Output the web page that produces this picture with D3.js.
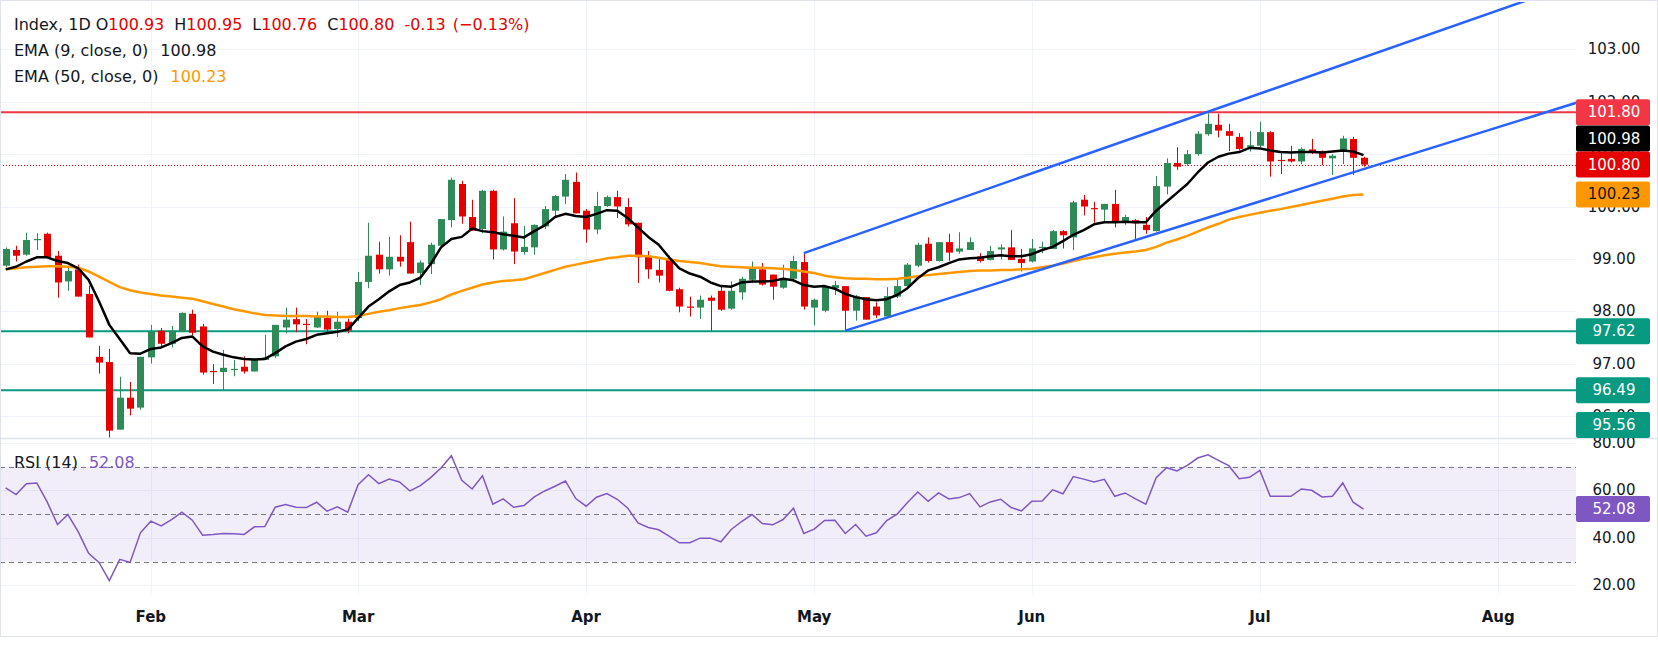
<!DOCTYPE html>
<html>
<head>
<meta charset="utf-8">
<title>Index 1D - EMA 9 / EMA 50 / RSI 14</title>
<script src="https://cdn.jsdelivr.net/npm/d3@7"></script>
<style>
  body { margin: 0; background: #fff; }
  svg { display: block; }
  text { font-family: "DejaVu Sans", sans-serif; fill: #131722; }
</style>
</head>
<body>
<div id="chart"></div>
<script>
// daily candles, one entry per trading day (mid Jan -> 15 Jul)
const opens = [98.87,99.17,99.08,99.36,99.48,99.06,98.57,98.80,98.33,97.13,97.03,95.74,96.35,96.16,97.12,97.63,97.38,97.61,97.95,97.71,
  96.86,96.84,96.88,96.94,96.85,97.07,97.14,97.69,97.85,97.76,97.69,97.87,97.66,97.80,97.87,98.56,99.08,98.80,99.04,99.32,
  98.73,98.90,99.25,99.74,100.43,99.80,99.57,100.30,99.18,99.68,99.13,99.22,99.62,99.92,100.19,100.47,99.92,99.56,100.01,100.18,
  99.99,99.69,99.04,98.79,99.00,98.42,98.09,98.07,98.26,98.39,98.05,98.36,98.60,98.80,98.70,98.45,98.62,98.94,98.07,98.01,
  98.44,98.48,98.01,98.27,98.09,97.90,98.28,98.48,98.87,99.29,98.96,99.32,99.14,99.17,99.05,98.98,99.18,99.22,99.00,98.95,
  99.22,99.19,99.53,99.41,100.13,99.97,99.94,100.05,99.69,99.74,99.65,99.53,100.38,100.83,100.81,101.00,101.38,101.56,101.44,101.33,
  101.14,101.16,101.42,100.89,100.91,100.86,101.09,101.06,100.92,101.07,101.29,100.93];
const highs = [99.22,99.25,99.50,99.49,99.50,99.15,98.87,98.89,98.49,97.34,97.28,96.75,96.65,97.13,97.74,97.68,97.72,97.98,98.03,97.76,
  96.99,97.26,97.07,97.14,97.09,97.55,97.74,98.07,98.07,97.85,97.99,98.01,97.99,97.86,98.75,99.69,99.33,99.42,99.45,99.71,
  98.97,99.31,99.76,100.55,100.49,100.13,100.32,100.32,99.81,100.16,99.63,99.66,100.01,100.22,100.62,100.65,99.95,100.28,100.21,100.30,
  100.16,99.69,99.15,99.03,99.06,98.45,98.28,98.30,98.30,98.50,98.57,98.66,98.95,98.92,98.70,98.89,99.06,99.11,98.24,98.50,
  98.58,98.48,98.31,98.27,98.17,98.46,98.60,98.92,99.31,99.41,99.32,99.48,99.51,99.41,99.11,99.25,99.28,99.55,99.19,99.38,
  99.33,99.55,99.55,100.11,100.22,100.09,100.05,100.32,99.84,99.76,99.80,100.58,100.92,101.13,101.08,101.44,101.78,101.77,101.58,101.40,
  101.44,101.62,101.44,101.02,101.16,101.13,101.29,101.07,101.00,101.35,101.33,100.95];
const lows = [98.84,98.95,99.06,99.17,99.03,98.26,98.39,98.28,97.50,96.81,95.59,95.74,96.01,96.12,97.00,97.32,97.31,97.61,97.54,96.79,
  96.61,96.49,96.76,96.81,96.85,97.07,97.11,97.58,97.60,97.37,97.68,97.60,97.51,97.58,97.81,98.44,98.72,98.68,98.85,98.72,
  98.50,98.71,99.22,99.60,99.67,99.54,99.49,98.99,99.16,98.90,99.08,99.08,99.57,99.80,100.05,99.87,99.31,99.47,99.99,99.78,
  99.62,98.54,98.62,98.55,98.38,97.98,97.90,97.85,97.63,98.01,98.03,98.22,98.54,98.49,98.22,98.43,98.56,98.03,97.73,97.98,
  98.31,97.63,97.82,97.84,97.87,97.90,98.25,98.47,98.84,98.93,98.95,98.96,99.10,99.17,98.93,98.97,98.99,98.98,98.76,98.93,
  99.11,99.19,99.20,99.17,99.83,99.69,99.71,99.60,99.65,99.38,99.48,99.52,100.23,100.70,100.78,100.97,101.35,101.32,101.06,101.07,
  101.05,101.13,100.57,100.62,100.84,100.81,101.00,100.79,100.60,100.81,100.60,100.76];
const closes = [99.19,99.06,99.36,99.38,99.03,98.55,98.77,98.28,97.50,97.02,95.72,96.35,96.14,97.13,97.61,97.38,97.63,97.97,97.59,96.83,
  96.84,96.92,96.90,96.85,97.09,97.12,97.74,97.84,97.75,97.75,97.90,97.65,97.80,97.63,98.56,99.06,98.80,99.04,98.95,98.72,
  98.93,99.27,99.76,100.51,99.81,99.54,100.30,99.18,99.52,99.14,99.23,99.65,99.95,100.20,100.51,99.87,99.56,100.01,100.18,100.00,
  99.66,99.03,98.80,98.68,98.39,98.09,98.07,98.22,98.20,98.03,98.39,98.62,98.84,98.51,98.47,98.63,98.96,98.09,98.22,98.48,
  98.50,98.01,98.28,97.84,97.92,98.29,98.48,98.89,99.27,98.96,99.32,99.12,99.20,99.32,98.96,99.15,99.22,98.98,98.92,99.20,
  99.23,99.53,99.45,100.08,100.00,99.96,100.05,99.69,99.80,99.68,99.55,100.39,100.83,100.76,101.00,101.39,101.58,101.45,101.35,101.10,
  101.17,101.42,100.86,100.87,100.86,101.10,101.04,100.93,100.97,101.30,100.93,100.80];

// indicator values, one per candle
const ema9 = [98.80,98.85,98.95,99.03,99.03,98.96,98.92,98.82,98.60,98.19,97.74,97.47,97.20,97.19,97.28,97.31,97.39,97.49,97.52,97.33,
  97.23,97.17,97.12,97.09,97.08,97.09,97.20,97.33,97.42,97.47,97.55,97.58,97.61,97.65,97.87,98.09,98.23,98.38,98.50,98.55,
  98.64,98.90,99.22,99.38,99.42,99.58,99.53,99.51,99.47,99.44,99.41,99.53,99.64,99.80,99.86,99.82,99.80,99.86,99.93,99.92,
  99.78,99.60,99.42,99.27,99.03,98.82,98.72,98.66,98.55,98.48,98.47,98.55,98.57,98.57,98.58,98.62,98.59,98.50,98.47,98.48,
  98.43,98.33,98.27,98.23,98.21,98.23,98.31,98.44,98.63,98.78,98.84,98.92,98.99,99.01,99.02,99.05,99.07,99.05,99.05,99.09,
  99.17,99.23,99.34,99.46,99.55,99.66,99.70,99.70,99.71,99.70,99.70,99.92,100.09,100.26,100.43,100.65,100.84,100.95,101.01,101.04,
  101.12,101.11,101.07,101.04,101.03,101.04,101.04,101.03,101.05,101.07,101.05,100.98];
const ema50 = [98.80,98.82,98.84,98.85,98.86,98.86,98.85,98.83,98.76,98.66,98.56,98.46,98.40,98.36,98.33,98.30,98.28,98.26,98.24,98.19,
  98.14,98.09,98.04,98.00,97.96,97.93,97.92,97.91,97.91,97.91,97.90,97.90,97.89,97.89,97.91,97.95,97.99,98.02,98.06,98.09,
  98.12,98.17,98.23,98.32,98.39,98.45,98.51,98.55,98.58,98.59,98.61,98.67,98.73,98.79,98.85,98.89,98.93,98.97,99.01,99.03,
  99.06,99.06,99.05,99.02,98.99,98.96,98.94,98.92,98.89,98.86,98.85,98.84,98.83,98.83,98.82,98.81,98.79,98.76,98.73,98.68,
  98.65,98.63,98.62,98.62,98.61,98.61,98.62,98.64,98.67,98.69,98.71,98.73,98.75,98.77,98.78,98.78,98.79,98.79,98.80,98.81,
  98.84,98.87,98.91,98.96,99.00,99.03,99.07,99.10,99.12,99.14,99.17,99.23,99.31,99.37,99.44,99.52,99.60,99.67,99.75,99.80,
  99.84,99.88,99.92,99.95,99.99,100.03,100.07,100.11,100.15,100.19,100.22,100.23];
const rsi = [60.98,58.18,62.80,63.08,55.11,45.59,49.79,42.52,33.43,29.65,21.96,30.91,29.65,42.10,47.00,45.04,47.69,50.77,47.41,41.12,
  41.40,41.82,41.68,41.40,44.62,44.76,52.87,53.99,52.87,52.73,54.97,51.19,53.01,50.77,62.38,66.57,62.80,64.76,63.50,59.72,
  61.96,65.31,69.37,74.55,64.20,60.56,66.15,54.13,56.36,52.87,53.57,57.20,59.72,61.70,63.92,56.50,53.29,57.06,58.60,56.22,
  52.59,46.29,44.34,43.36,40.70,37.90,37.90,39.86,39.86,38.32,43.50,46.85,49.79,46.01,45.45,47.69,52.45,41.82,43.64,47.27,
  47.41,41.82,45.59,40.70,42.10,47.27,49.93,54.83,59.30,55.39,58.88,56.36,56.92,58.60,53.01,55.11,56.22,52.73,51.33,55.39,
  55.52,60.20,58.53,65.80,64.69,63.50,64.62,57.48,58.88,56.36,54.13,65.31,69.51,68.11,70.49,73.57,74.97,72.59,70.35,64.90,
  65.45,68.39,57.48,57.48,57.48,60.56,60.00,57.20,57.48,63.08,54.97,52.08];

// x axis: first bar of each month
const monthNames = ["Feb", "Mar", "Apr", "May", "Jun", "Jul", "Aug"];
const monthStart = [14, 34, 56, 78, 99, 121, 144];

const priceTicks = [96, 97, 98, 99, 100, 101, 102, 103];
const rsiTicks = [20, 40, 60, 80];
const rsiLevels = [70, 50, 30];

// drawn levels and the channel (bar index, price)
const resistance = 101.80;
const supports = [97.62, 96.49, 95.56];
const channelLower = [[81, 97.63], [152, 102.01]];
const channelUpper = [[77, 99.11], [152, 104.30]];

const W = 1658, H = 647;
const plotRight = 1576;
const priceTop = 2, priceBottom = 438;
const rsiTop = 439, rsiBottom = 594;

const upColor = "#2e8b57", downColor = "#e60000";
const teal = "#089981", purple = "#7e57c2";

const svg = d3.select("#chart").append("svg").attr("width", W).attr("height", H);

const x = d3.scaleLinear().domain([-0.55, 151.5]).range([0, plotRight]);
const y = d3.scaleLinear().domain([95.58, 103.905]).range([priceBottom, priceTop]);
const ry = d3.scaleLinear().domain([16.34, 81.59]).range([rsiBottom, rsiTop]);

svg.append("rect").attr("x", 0.5).attr("y", 0.5).attr("width", W - 1).attr("height", 636)
  .attr("fill", "#fff").attr("stroke", "#e0e3eb");

const defs = svg.append("defs");
defs.append("clipPath").attr("id", "clipPrice").append("rect")
  .attr("x", 1).attr("y", priceTop).attr("width", plotRight - 1).attr("height", priceBottom - priceTop);
defs.append("clipPath").attr("id", "clipRsi").append("rect")
  .attr("x", 1).attr("y", rsiTop).attr("width", plotRight - 1).attr("height", rsiBottom - rsiTop);

// grid
const grid = svg.append("g").attr("stroke", "#f0f3fa").attr("stroke-width", 1);
grid.selectAll(".hp").data(priceTicks).join("line")
  .attr("x1", 1).attr("x2", plotRight)
  .attr("y1", d => Math.round(y(d)) + 0.5).attr("y2", d => Math.round(y(d)) + 0.5);
grid.selectAll(".hr").data(rsiTicks).join("line")
  .attr("x1", 1).attr("x2", plotRight)
  .attr("y1", d => Math.round(ry(d)) + 0.5).attr("y2", d => Math.round(ry(d)) + 0.5);
grid.selectAll(".vm").data(monthStart).join("line")
  .attr("x1", d => Math.round(x(d)) + 0.5).attr("x2", d => Math.round(x(d)) + 0.5)
  .attr("y1", priceTop).attr("y2", rsiBottom);

// pane separator
svg.append("line").attr("x1", 0).attr("x2", W).attr("y1", 438.5).attr("y2", 438.5)
  .attr("stroke", "#e0e3eb").attr("stroke-width", 1.5);

// ---- price pane ----
const price = svg.append("g").attr("clip-path", "url(#clipPrice)");

price.append("line").attr("x1", 0).attr("x2", plotRight)
  .attr("y1", y(resistance)).attr("y2", y(resistance))
  .attr("stroke", "#f23645").attr("stroke-width", 2);
price.selectAll(".sup").data(supports).join("line")
  .attr("x1", 0).attr("x2", plotRight)
  .attr("y1", d => y(d)).attr("y2", d => y(d))
  .attr("stroke", teal).attr("stroke-width", 2);

const last = closes.length - 1;
price.append("line").attr("x1", 0).attr("x2", plotRight)
  .attr("y1", Math.round(y(closes[last])) + 0.5).attr("y2", Math.round(y(closes[last])) + 0.5)
  .attr("stroke", downColor).attr("stroke-width", 1).attr("stroke-dasharray", "1,2");

const bars = d3.range(closes.length);
const bw = 7;
const candles = price.append("g");
candles.selectAll(".wick").data(bars).join("line")
  .attr("x1", i => Math.round(x(i)) + 0.5).attr("x2", i => Math.round(x(i)) + 0.5)
  .attr("y1", i => y(highs[i])).attr("y2", i => y(lows[i]))
  .attr("stroke", i => closes[i] >= opens[i] ? upColor : downColor).attr("stroke-width", 1);
candles.selectAll(".body").data(bars).join("rect")
  .attr("x", i => Math.round(x(i)) + 0.5 - bw / 2)
  .attr("width", bw)
  .attr("y", i => y(Math.max(opens[i], closes[i])))
  .attr("height", i => Math.max(1.2, Math.abs(y(opens[i]) - y(closes[i]))))
  .attr("fill", i => closes[i] >= opens[i] ? upColor : downColor);

const emaLine = arr => d3.line().x((d, i) => x(i)).y(d => y(d))(arr);
price.append("path").attr("d", emaLine(ema50)).attr("fill", "none")
  .attr("stroke", "#ff9800").attr("stroke-width", 2.5).attr("stroke-linejoin", "round");
price.append("path").attr("d", emaLine(ema9)).attr("fill", "none")
  .attr("stroke", "#000").attr("stroke-width", 2.5).attr("stroke-linejoin", "round");

const chan = d3.line().x(d => x(d[0])).y(d => y(d[1]));
[channelLower, channelUpper].forEach(c => {
  price.append("path").attr("d", chan(c)).attr("fill", "none")
    .attr("stroke", "#2962ff").attr("stroke-width", 2.5);
});

// ---- RSI pane ----
const rsiG = svg.append("g").attr("clip-path", "url(#clipRsi)");
rsiG.append("rect").attr("x", 0).attr("width", plotRight)
  .attr("y", ry(70)).attr("height", ry(30) - ry(70))
  .attr("fill", purple).attr("fill-opacity", 0.1);
rsiG.selectAll(".lvl").data(rsiLevels).join("line")
  .attr("x1", 0).attr("x2", plotRight)
  .attr("y1", d => Math.round(ry(d)) + 0.5).attr("y2", d => Math.round(ry(d)) + 0.5)
  .attr("stroke", "#787b86").attr("stroke-width", 1).attr("stroke-dasharray", "5,4");
rsiG.append("path")
  .attr("d", d3.line().x((d, i) => x(i)).y(d => ry(d))(rsi))
  .attr("fill", "none").attr("stroke", purple).attr("stroke-width", 1.5);

// ---- x axis ----
svg.selectAll(".mon").data(monthNames).join("text")
  .attr("x", (d, i) => x(monthStart[i])).attr("y", 617)
  .attr("text-anchor", "middle").attr("dominant-baseline", "central")
  .attr("font-size", 15).attr("font-weight", "bold")
  .text(d => d);

// ---- right axis ticks ----
const axisX = 1614;
svg.selectAll(".pt").data(priceTicks).join("text")
  .attr("x", axisX).attr("y", d => y(d))
  .attr("text-anchor", "middle").attr("dominant-baseline", "central")
  .attr("font-size", 15).text(d => d.toFixed(2));
svg.selectAll(".rt").data(rsiTicks).join("text")
  .attr("x", axisX).attr("y", d => ry(d))
  .attr("text-anchor", "middle").attr("dominant-baseline", "central")
  .attr("font-size", 15).text(d => d.toFixed(2));

// ---- axis value labels ----
const boxH = 26, boxW = 74;
const labels = [
  { v: resistance, bg: "#f23645", fg: "#fff", fixed: true },
  { v: ema9[last], bg: "#000", fg: "#fff", fixed: false },
  { v: closes[last], bg: downColor, fg: "#fff", fixed: true },
  { v: ema50[last], bg: "#ff9800", fg: "#131722", fixed: false },
  ...supports.map(s => ({ v: s, bg: teal, fg: "#fff", fixed: true }))
];
labels.forEach(l => {
  l.cy = Math.max(priceTop + boxH / 2, Math.min(priceBottom - boxH / 2, y(l.v)));
});
labels.filter(l => !l.fixed).forEach(l => {
  const hit = labels.find(f => f.fixed && Math.abs(f.cy - l.cy) < boxH);
  if (hit) {
    const up = hit.cy - boxH, down = hit.cy + boxH;
    l.cy = Math.abs(up - l.cy) <= Math.abs(down - l.cy) ? up : down;
  }
});
labels.push({ v: rsi[last], bg: purple, fg: "#fff", cy: ry(rsi[last]) });

const lab = svg.selectAll(".lab").data(labels).join("g");
lab.append("rect")
  .attr("x", plotRight).attr("y", d => d.cy - boxH / 2)
  .attr("width", boxW).attr("height", boxH).attr("rx", 2)
  .attr("fill", d => d.bg);
lab.append("text")
  .attr("x", axisX).attr("y", d => d.cy)
  .attr("text-anchor", "middle").attr("dominant-baseline", "central")
  .attr("font-size", 15).style("fill", d => d.fg)
  .text(d => d.v.toFixed(2));

// ---- legends ----
const fmt = v => v.toFixed(2);
const chg = closes[last] - closes[last - 1];
const pct = "(\u2212" + Math.abs(chg / closes[last - 1] * 100).toFixed(2) + "%)";
const legend = svg.append("g").attr("font-size", 16);

function legendLine(yPos, parts) {
  const t = legend.append("text").attr("x", 14).attr("y", yPos).attr("dominant-baseline", "central");
  parts.forEach(([txt, color, dx]) => {
    const s = t.append("tspan").text(txt);
    if (dx) s.attr("dx", dx);
    if (color) s.style("fill", color);
  });
}

legendLine(24, [["Index, 1D"], ["O", null, 5], [fmt(opens[last]), downColor],
  ["H", null, 10], [fmt(highs[last]), downColor],
  ["L", null, 10], [fmt(lows[last]), downColor],
  ["C", null, 10], [fmt(closes[last]), downColor],
  [fmt(chg), downColor, 10], [pct, downColor, 7]]);
legendLine(50, [["EMA (9, close, 0)"], [fmt(ema9[last]), null, 12]]);
legendLine(76, [["EMA (50, close, 0)"], [fmt(ema50[last]), "#ff9800", 12]]);
legendLine(462, [["RSI (14)"], [fmt(rsi[last]), purple, 11]]);
</script>
</body>
</html>
